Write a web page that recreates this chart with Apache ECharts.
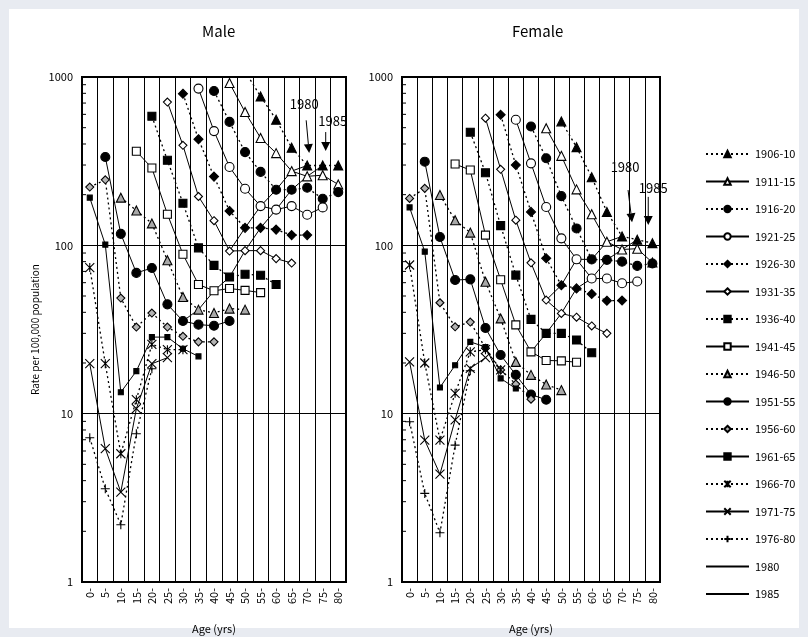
<!DOCTYPE html>
<html>
<head>
<meta charset="utf-8">
<script src="https://cdn.jsdelivr.net/npm/echarts@6/dist/echarts.min.js"></script>
<style>
html, body { margin: 0; padding: 0; background: #e8ebf1; }
#frame { position: absolute; left: 9px; top: 9px; width: 790px; height: 619px; background: #fff; }
#chart { position: absolute; left: 0; top: 0; width: 808px; height: 637px; }
</style>
</head>
<body>
<div id="frame"></div>
<div id="chart"></div>
<script>
const _ = null;
const ages = ['0-', '5-', '10-', '15-', '20-', '25-', '30-', '35-', '40-', '45-',
  '50-', '55-', '60-', '65-', '70-', '75-', '80-'];
const cohorts = ['1906-10', '1911-15', '1916-20', '1921-25', '1926-30', '1931-35', '1936-40',
  '1941-45', '1946-50', '1951-55', '1956-60', '1961-65', '1966-70', '1971-75', '1976-80'];
const yTicks = [1, 10, 100, 1000];
const minorTickValues = [2, 3, 4, 5, 6, 7, 8, 9, 20, 30, 40, 50, 60, 70, 80, 90,
  200, 300, 400, 500, 600, 700, 800, 900];

// male, rate per 100,000 by age group (one array per birth cohort)
const m1906 = [_, _, _, _, _, _, _, _, _, _, 1080, 767, 558, 380, 298, 298, 298];
const m1911 = [_, _, _, _, _, _, _, _, _, 921, 619, 434, 353, 276, 257, 261, 230];
const m1916 = [_, _, _, _, _, _, _, _, 826, 541, 358, 273, 214, 214, 220, 189, 207];
const m1921 = [_, _, _, _, _, _, _, 853, 477, 292, 217, 171, 163, 171, 152, 168];
const m1926 = [_, _, _, _, _, _, 796, 427, 256, 160, 127, 127, 124, 115, 115];
const m1931 = [_, _, _, _, _, 710, 393, 195, 140, 92.5, 93, 93, 83.4, 78.5];
const m1936 = [_, _, _, _, 585, 320, 178, 96.6, 76, 64.8, 67.3, 66.4, 58.5];
const m1941 = [_, _, _, 362, 288, 153, 88.5, 58.5, 53.7, 55.4, 54, 52.4];
const m1946 = [_, _, 192, 161, 135, 81.5, 49.3, 41.5, 39.6, 42.1, 41.5];
const m1951 = [_, 335, 117, 68.6, 73.3, 44.6, 35.5, 33.8, 33.3, 35.5];
const m1956 = [222, 245, 48.6, 32.7, 39.6, 32.7, 28.8, 26.7, 26.7];
const m1961 = [192, 101, 13.4, 17.9, 28.5, 28.5, 24.3, 21.9];
const m1966 = [73.8, 19.8, 5.78, 12.1, 25.8, 24.0, 24.0];
const m1971 = [19.8, 6.2, 3.42, 10.7, 19.8, 21.5];
const m1976 = [7.2, 3.58, 2.19, 7.6, 18.5];

// female
const f1906 = [_, _, _, _, _, _, _, _, _, _, 545, 383, 254, 158, 113, 108, 103];
const f1911 = [_, _, _, _, _, _, _, _, _, 496, 340, 215, 153, 105, 94.5, 95.5, 79];
const f1916 = [_, _, _, _, _, _, _, _, 508, 329, 196, 126, 82.5, 82, 80, 75.5, 78];
const f1921 = [_, _, _, _, _, _, _, 557, 307, 169, 110, 82.6, 63.5, 63.5, 59.5, 61];
const f1926 = [_, _, _, _, _, _, 596, 300, 158, 83.7, 58, 55.5, 51.4, 46.9, 47];
const f1931 = [_, _, _, _, _, 569, 283, 141, 78.7, 47.3, 39.4, 37.4, 33.2, 30];
const f1936 = [_, _, _, _, 470, 270, 131, 66.5, 36.3, 30, 30, 27.4, 23];
const f1941 = [_, _, _, 304, 280, 115, 62.4, 33.7, 23.3, 20.7, 20.6, 20.2];
const f1946 = [_, _, 199, 141, 119, 60.8, 36.8, 20.3, 17, 14.9, 13.8];
const f1951 = [_, 314, 112, 62.2, 62.8, 32.3, 22.3, 17, 13, 12.1];
const f1956 = [190, 218, 45.6, 32.8, 35, 24.5, 18.2, 15, 12.2];
const f1961 = [168, 91.7, 14.3, 19.4, 26.7, 24.9, 16.2, 14.1];
const f1966 = [76.4, 20, 6.96, 13.2, 23.3, 24, 18.2];
const f1971 = [20.3, 6.96, 4.37, 9.18, 18.6, 21.5];
const f1976 = [8.96, 3.36, 1.96, 6.5, 18];

const maleRows = [m1906, m1911, m1916, m1921, m1926, m1931, m1936, m1941,
  m1946, m1951, m1956, m1961, m1966, m1971, m1976];
const femaleRows = [f1906, f1911, f1916, f1921, f1926, f1931, f1936, f1941,
  f1946, f1951, f1956, f1961, f1966, f1971, f1976];

// period curves: ages drawn for each calendar period
const periods = ['1980', '1985'];
const male1980Ages = ['45-', '50-', '55-', '60-', '65-', '70-'];
const male1985Ages = ['30-', '35-', '40-', '45-', '50-', '55-', '60-', '65-', '70-', '75-'];
const female1980Ages = ['45-', '50-', '55-', '60-', '65-', '70-'];
const female1985Ages = ['40-', '45-', '50-', '55-', '60-', '65-', '70-', '75-'];

const FONT = '"Noto Sans CJK JP", "Noto Sans", sans-serif';
const ASTERISK = 'path://M0,0L10,10M10,0L0,10M5,0L5,10';
const CROSS = 'path://M0,0L10,10M10,0L0,10';
const PLUS = 'path://M5,0L5,10M0,5L10,5';

const cohortStyles = [
  { symbol: 'triangle', fill: '#000', dotted: true, size: 9 },
  { symbol: 'triangle', fill: '#fff', dotted: false, size: 9 },
  { symbol: 'circle', fill: '#000', dotted: true, size: 9 },
  { symbol: 'circle', fill: '#fff', dotted: false, size: 9 },
  { symbol: 'diamond', fill: '#000', dotted: true, size: 9 },
  { symbol: 'diamond', fill: '#fff', dotted: false, size: 8 },
  { symbol: 'rect', fill: '#000', dotted: true, size: 8 },
  { symbol: 'rect', fill: '#fff', dotted: false, size: 8 },
  { symbol: 'triangle', fill: '#a8a8a8', dotted: true, size: 9 },
  { symbol: 'circle', fill: '#000', dotted: false, size: 9 },
  { symbol: 'diamond', fill: '#b4b4b4', dotted: true, size: 8 },
  { symbol: 'rect', fill: '#000', dotted: false, size: 5 },
  { symbol: ASTERISK, fill: 'transparent', dotted: true, size: 9 },
  { symbol: CROSS, fill: 'transparent', dotted: false, size: 9 },
  { symbol: PLUS, fill: 'transparent', dotted: true, size: 9 },
];

const chart = echarts.init(document.getElementById('chart'));

function cohortSeries(rows, gi) {
  return rows.map((row, k) => {
    const st = cohortStyles[k];
    return {
      name: cohorts[k],
      type: 'line',
      xAxisIndex: gi,
      yAxisIndex: gi,
      data: row,
      symbol: st.symbol,
      symbolSize: st.size,
      showAllSymbol: true,
      animation: false,
      z: 3,
      itemStyle: { color: st.fill, borderColor: '#000', borderWidth: 1.1 },
      lineStyle: { color: '#000', width: st.dotted ? 1.3 : 1, type: st.dotted ? [2, 3] : 'solid' },
    };
  });
}

// a period curve picks, at each age, the cohort that was that age in the period
function periodSeries(rows, gi, name, periodIndex, usedAges) {
  const data = ages.map((a, j) => {
    if (usedAges.indexOf(a) < 0) return null;
    const k = periodIndex - j;
    return rows[k][j];
  });
  return {
    name: name,
    type: 'line',
    xAxisIndex: gi,
    yAxisIndex: gi,
    data: data,
    symbol: 'none',
    animation: false,
    z: 2,
    itemStyle: { color: '#000' },
    lineStyle: { color: '#000', width: 1, type: 'solid' },
  };
}

function minorTicks(gi) {
  return {
    type: 'custom',
    xAxisIndex: gi,
    yAxisIndex: gi,
    silent: true,
    animation: false,
    data: minorTickValues.map((v) => [0, v]),
    renderItem(params, api) {
      const y = api.coord([0, api.value(1)])[1];
      const x = params.coordSys.x;
      return { type: 'line', shape: { x1: x, y1: y, x2: x + 4, y2: y }, style: { stroke: '#000', lineWidth: 1 } };
    },
  };
}

function xAxis(gi) {
  return {
    type: 'category',
    gridIndex: gi,
    data: ages,
    boundaryGap: true,
    name: 'Age (yrs)',
    nameLocation: 'middle',
    nameGap: 41,
    nameTextStyle: { color: '#000', fontSize: 11, fontFamily: FONT },
    axisLine: { lineStyle: { color: '#000', width: 2 } },
    axisTick: { show: false },
    axisLabel: { interval: 0, rotate: 90, margin: 6, color: '#000', fontSize: 11, fontFamily: FONT },
    splitLine: { show: true, interval: 0, lineStyle: { color: '#000', width: 1 } },
  };
}

function yAxis(gi, name) {
  return {
    type: 'log',
    gridIndex: gi,
    logBase: 10,
    min: yTicks[0],
    max: yTicks[yTicks.length - 1],
    name: name,
    nameLocation: 'middle',
    nameRotate: 90,
    nameGap: 42,
    nameTextStyle: { color: '#000', fontSize: 10, fontFamily: FONT },
    axisLine: { show: true, lineStyle: { color: '#000', width: 2 } },
    axisTick: { show: true, inside: true, length: 5, lineStyle: { color: '#000' } },
    axisLabel: { color: '#000', fontSize: 11, margin: 9, fontFamily: FONT, formatter: (v) => String(Math.round(v)) },
    splitLine: { show: true, lineStyle: { color: '#000', width: 1 } },
  };
}

const hiddenMark = { color: 'transparent', borderColor: 'transparent', borderWidth: 0 };
const legendData = cohorts.map((c) => ({ name: c }))
  .concat(periods.map((p) => ({ name: p, itemStyle: hiddenMark })));

const option = {
  backgroundColor: 'transparent',
  animation: false,
  title: [
    { text: 'Male', left: 197, top: 19, textStyle: { color: '#000', fontSize: 15, fontWeight: 'normal', fontFamily: FONT } },
    { text: 'Female', left: 507, top: 19, textStyle: { color: '#000', fontSize: 15, fontWeight: 'normal', fontFamily: FONT } },
  ],
  grid: [
    { left: 82, top: 77, width: 264, height: 505, show: true, borderColor: '#000', borderWidth: 2, backgroundColor: '#fff', outerBoundsMode: 'none' },
    { left: 402, top: 77, width: 258, height: 505, show: true, borderColor: '#000', borderWidth: 2, backgroundColor: '#fff', outerBoundsMode: 'none' },
  ],
  legend: {
    data: legendData,
    orient: 'vertical',
    left: 705,
    top: 147,
    padding: 0,
    itemWidth: 43,
    itemHeight: 8,
    itemGap: 13.5,
    selectedMode: false,
    textStyle: { color: '#000', fontSize: 11, lineHeight: 14, fontFamily: FONT, padding: [0, 0, 0, 1] },
  },
  xAxis: [xAxis(0), xAxis(1)],
  yAxis: [yAxis(0, 'Rate per 100,000 population'), yAxis(1, '')],
  series: [].concat(
    cohortSeries(maleRows, 0),
    [periodSeries(maleRows, 0, periods[0], 14, male1980Ages),
     periodSeries(maleRows, 0, periods[1], 15, male1985Ages)],
    cohortSeries(femaleRows, 1),
    [periodSeries(femaleRows, 1, periods[0], 14, female1980Ages),
     periodSeries(femaleRows, 1, periods[1], 15, female1985Ages)],
    [minorTicks(0), minorTicks(1)]
  ),
};

chart.setOption(option);

// period labels with arrows, anchored to the age columns they point at
const notes = [
  { gi: 0, label: '1980', age: '70-', text: [-3, 689], from: [-1, 553], to: [2, 353] },
  { gi: 0, label: '1985', age: '75-', text: [10, 545], from: [3, 471], to: [3, 363] },
  { gi: 1, label: '1980', age: '70-', text: [3, 292], from: [6, 213], to: [10, 137] },
  { gi: 1, label: '1985', age: '75-', text: [16, 219], from: [11, 194], to: [11, 132] },
];

function pt(gi, age, d) {
  const p = chart.convertToPixel({ xAxisIndex: gi, yAxisIndex: gi }, [age, d[1]]);
  return [p[0] + d[0], p[1]];
}

const graphics = [];
notes.forEach((n) => {
  const t = pt(n.gi, n.age, n.text);
  const a = pt(n.gi, n.age, n.from);
  const b = pt(n.gi, n.age, n.to);
  const dx = b[0] - a[0];
  const dy = b[1] - a[1];
  const len = Math.sqrt(dx * dx + dy * dy);
  const ux = dx / len;
  const uy = dy / len;
  const head = 9;
  const half = 4.5;
  const base = [b[0] - ux * head, b[1] - uy * head];
  graphics.push({
    type: 'text', z: 10,
    style: { text: n.label, x: t[0], y: t[1], align: 'center', verticalAlign: 'middle', fill: '#000', fontSize: 13, fontFamily: FONT },
  });
  graphics.push({
    type: 'line', z: 10,
    shape: { x1: a[0], y1: a[1], x2: base[0], y2: base[1] },
    style: { stroke: '#000', lineWidth: 1 },
  });
  graphics.push({
    type: 'polygon', z: 10,
    shape: { points: [b, [base[0] - uy * half, base[1] + ux * half], [base[0] + uy * half, base[1] - ux * half]] },
    style: { fill: '#000' },
  });
});
chart.setOption({ graphic: graphics });
</script>
</body>
</html>
